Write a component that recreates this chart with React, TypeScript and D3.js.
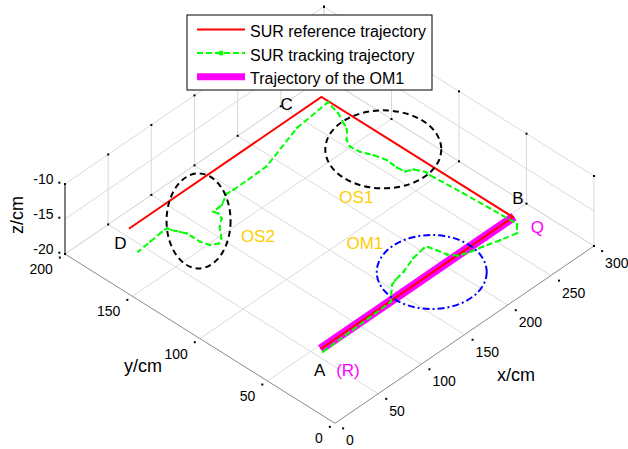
import React from 'react';
import * as d3 from 'd3';

// ---------- data ----------
const xTicks = [0, 50, 100, 150, 200, 250, 300];
const yTicks = [0, 50, 100, 150, 200];
const zTicks = [-20, -15, -10];

const pathZ = -18.6;

// SUR reference trajectory A -> B -> C -> D
const refX = [49, 272, 272, 49];
const refY = [42, 42, 184, 184];

// SUR tracking trajectory
const trackX = [48, 129.5, 145, 151, 163, 180.5, 195, 198.5, 200.5, 202.5, 207.5, 217.5, 229.5, 244.5, 260, 268, 268, 267, 265.5, 263, 263.5, 259, 252.5, 251.5, 252.5, 249.5, 245, 244, 248, 257, 260, 267, 271, 231.5, 180, 141, 134, 121.5, 111, 112, 109.5, 101, 92, 85.5, 79.5, 77, 77, 77, 74.5, 71.5, 70.5, 64.5, 49.5, 34];
const trackY = [39.5, 41.5, 50.5, 52, 53.5, 57.5, 59, 58, 53, 46.5, 41.5, 39, 37, 34, 31.5, 36.5, 39.5, 56, 75, 98, 101.5, 107.5, 109.5, 115, 123, 131, 138, 145, 150, 155.5, 159, 168.5, 178.5, 176, 166, 165.5, 166, 161.5, 161, 158, 154, 150, 143, 141, 143.5, 149, 155, 159, 162.5, 167, 169.5, 169.5, 168.5, 167.5];

// Trajectory of the OM1
const om1X = [49, 273];
const om1Y = [42, 42];

// obstacle ellipses (centres in data coords)
const ellipseNames = ['OS1', 'OS2', 'OM1'];
const ellipseX = [260, 94.5, 178.5];
const ellipseY = [130.5, 161.5, 42.5];

// point labels
const labelTexts = ['A', '(R)', 'B', 'Q', 'C', 'D', 'OS1', 'OS2', 'OM1'];
const labelX = [30, 45.5, 291.5, 276.5, 246.5, 32, 203, 114, 167.5];
const labelY = [30.5, 19.5, 51, 27, 193.5, 179.5, 114, 130, 85];

const legendLabels = ['SUR reference trajectory', 'SUR tracking trajectory', 'Trajectory of the OM1'];

// ---------- styles / layout ----------
const W = 628, H = 449;
const FONT = 'Liberation Sans, Arial, Helvetica, sans-serif';
const ORIGIN = [335, 423.3];
const EX = [259, -177.3];
const EY = [-270, -169.3];
const EZ = [0, -70];
const GRID = '#dadada';
const AXIS = '#8a8a8a';
const GOLD = '#FFCC00';
const ellipseR = [[58, 39], [32, 47.5], [55, 37]];
const ellipseColor = ['#000', '#000', '#0000FF'];
const ellipseDash = ['6,4', '6,4', '7,3,2,3'];
const labelColor = ['#000', '#FF00FF', '#000', '#FF00FF', '#000', '#000', GOLD, GOLD, GOLD];
const labelSize = [17, 17, 17, 17, 17, 17, 17, 17, 17];

const xs = d3.scaleLinear().domain([0, 300]).range([0, 1]);
const ys = d3.scaleLinear().domain([0, 200]).range([0, 1]);
const zs = d3.scaleLinear().domain([-20, -10]).range([0, 1]);

function P(x: number, y: number, z: number): [number, number] {
  const a = xs(x), b = ys(y), c = zs(z);
  return [
    ORIGIN[0] + a * EX[0] + b * EY[0] + c * EZ[0],
    ORIGIN[1] + a * EX[1] + b * EY[1] + c * EZ[1],
  ];
}

const line = d3.line<[number, number]>();

function seg(a: [number, number], b: [number, number], color: string, key: string, w = 1) {
  return <line key={key} x1={a[0]} y1={a[1]} x2={b[0]} y2={b[1]} stroke={color} strokeWidth={w} />;
}

function Dot({ p }: { p: [number, number] }) {
  return <rect x={p[0] - 1} y={p[1] - 1} width={2} height={2} fill="#000" />;
}

export default function App() {
  const grid: React.ReactNode[] = [];
  // floor
  xTicks.forEach((x) => { if (x !== 0) grid.push(seg(P(x, 0, -20), P(x, 200, -20), GRID, 'fx' + x)); });
  yTicks.forEach((y) => { if (y !== 0) grid.push(seg(P(0, y, -20), P(300, y, -20), GRID, 'fy' + y)); });
  // back wall y=200
  xTicks.forEach((x) => { if (x !== 0) grid.push(seg(P(x, 200, -20), P(x, 200, -10), GRID, 'wx' + x)); });
  zTicks.forEach((z) => { grid.push(seg(P(0, 200, z), P(300, 200, z), GRID, 'wz1' + z)); });
  // back wall x=300
  yTicks.forEach((y) => { grid.push(seg(P(300, y, -20), P(300, y, -10), GRID, 'wy' + y)); });
  zTicks.forEach((z) => { grid.push(seg(P(300, 0, z), P(300, 200, z), GRID, 'wz2' + z)); });

  const dots: React.ReactNode[] = [];
  xTicks.forEach((x) => {
    dots.push(<Dot key={'bx0' + x} p={P(x, 200, -20)} />);
    dots.push(<Dot key={'bx1' + x} p={P(x, 200, -10)} />);
    dots.push(<Dot key={'tx' + x} p={P(x, -6, -20)} />);
  });
  yTicks.forEach((y) => {
    dots.push(<Dot key={'by0' + y} p={P(300, y, -20)} />);
    dots.push(<Dot key={'by1' + y} p={P(300, y, -10)} />);
    dots.push(<Dot key={'ty' + y} p={P(-6, y, -20)} />);
  });
  zTicks.forEach((z) => {
    const p = P(0, 200, z);
    dots.push(<Dot key={'tz' + z} p={[p[0] - 5.7, p[1] - 1.3]} />);
  });

  const refPts = refX.map((x, i) => P(x, refY[i], pathZ));
  const trackPts = trackX.map((x, i) => P(x, trackY[i], pathZ));
  const om1Pts = om1X.map((x, i) => P(x, om1Y[i], pathZ));

  const tickFs = 14;

  return (
    <svg width={W} height={H} style={{ position: 'absolute', left: 0, top: 0, background: '#fff' }} fontFamily={FONT}>
      <rect x={0} y={0} width={W} height={H} fill="#fff" />
      {grid}
      {seg(P(0, 0, -20), P(300, 0, -20), AXIS, 'ax')}
      {seg(P(0, 0, -20), P(0, 200, -20), AXIS, 'ay')}
      {seg(P(0, 200, -20), P(0, 200, -10), '#000', 'az')}
      {dots}

      {/* tick labels */}
      {xTicks.map((x) => {
        const p = P(x, -6, -20);
        return <text key={'xl' + x} x={p[0] + 3} y={p[1] + 12 + 0.36 * tickFs} fontSize={tickFs} textAnchor="start">{x}</text>;
      })}
      {yTicks.map((y) => {
        const p = P(-6, y, -20);
        return <text key={'yl' + y} x={p[0] - 7} y={p[1] + 11.5 + 0.36 * tickFs} fontSize={tickFs} textAnchor="end">{y}</text>;
      })}
      {zTicks.map((z) => {
        const p = P(0, 200, z);
        return <text key={'zl' + z} x={p[0] - 11.5} y={p[1] - 5.5 + 0.36 * tickFs} fontSize={tickFs} textAnchor="end">{z}</text>;
      })}

      {/* axis labels */}
      <text x={516} y={381} fontSize={18} textAnchor="middle">x/cm</text>
      <text x={143} y={372} fontSize={18} textAnchor="middle">y/cm</text>
      <text transform="translate(23,215) rotate(-90)" fontSize={18} textAnchor="middle">z/cm</text>

      {/* data */}
      <path d={line(om1Pts) || ''} fill="none" stroke="#FF00FF" strokeWidth={9} strokeLinecap="butt" />
      <path d={line(refPts) || ''} fill="none" stroke="#FF0000" strokeWidth={2} strokeLinejoin="miter" />
      <path d={line(trackPts) || ''} fill="none" stroke="#00FF00" strokeWidth={2} strokeDasharray="6,3" />
      {trackPts.map((p, i) => <circle key={'tm' + i} cx={p[0]} cy={p[1]} r={1.2} fill="#00FF00" />)}

      {/* ellipses */}
      {ellipseNames.map((n, i) => {
        const c = P(ellipseX[i], ellipseY[i], pathZ);
        return <ellipse key={'el' + n} cx={c[0]} cy={c[1]} rx={ellipseR[i][0]} ry={ellipseR[i][1]} fill="none" stroke={ellipseColor[i]} strokeWidth={2} strokeDasharray={ellipseDash[i]} />;
      })}

      {/* labels */}
      {labelTexts.map((t, i) => {
        const c = P(labelX[i], labelY[i], pathZ);
        return <text key={'lb' + i} x={c[0]} y={c[1] + 0.36 * labelSize[i]} fontSize={labelSize[i]} fill={labelColor[i]} textAnchor="middle">{t}</text>;
      })}

      {/* legend */}
      <rect x={187} y={15} width={245} height={75} fill="#fff" stroke="#000" strokeWidth={1} />
      {legendLabels.map((l, i) => {
        const ly = 29.5 + i * 23.6;
        return (
          <g key={'lg' + i}>
            {i === 0 && <line x1={197} x2={245} y1={ly} y2={ly} stroke="#FF0000" strokeWidth={2} />}
            {i === 1 && <g>
              <line x1={197} x2={245} y1={ly} y2={ly} stroke="#00FF00" strokeWidth={2} strokeDasharray="6,3" />
              <circle cx={221} cy={ly} r={2.5} fill="#00FF00" />
            </g>}
            {i === 2 && <line x1={197} x2={245} y1={ly} y2={ly} stroke="#FF00FF" strokeWidth={7} />}
            <text x={250} y={36.7 + i * 23.8} fontSize={16}>{l}</text>
          </g>
        );
      })}
    </svg>
  );
}
